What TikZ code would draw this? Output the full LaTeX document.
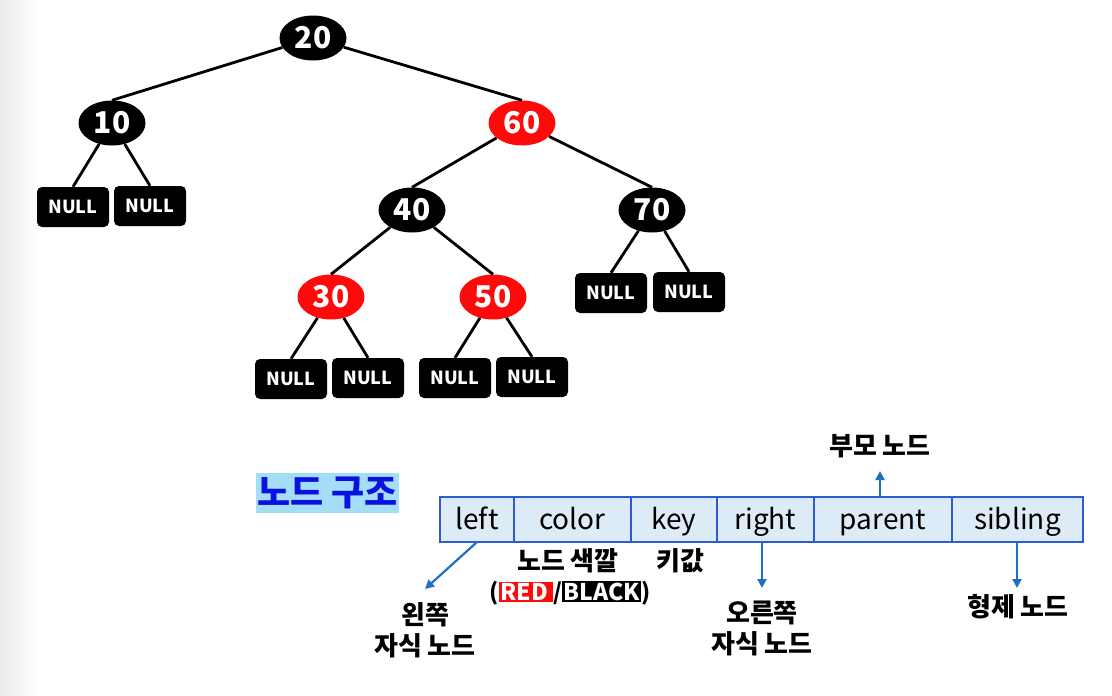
\documentclass[tikz,border=0pt]{standalone}
\usepackage{fontspec}
\setmainfont{Noto Sans CJK KR}
\usetikzlibrary{shapes.geometric,arrows.meta}
\definecolor{rbred}{HTML}{FF0A0A}
\definecolor{arrblue}{HTML}{1F70C0}
\definecolor{cellfill}{HTML}{DDEBF7}
\definecolor{cellborder}{HTML}{2E5BD0}
\definecolor{hlbg}{HTML}{A3DDF7}
\definecolor{titleblue}{HTML}{0A10E0}
\begin{document}
\begin{tikzpicture}[x=1pt,y=-1pt,
  bnode/.style={ellipse, fill=black, minimum width=67pt, minimum height=45pt, inner sep=0pt, text=white, font=\bfseries\fontsize{30}{32}\selectfont},
  rnode/.style={bnode, fill=rbred},
  nullbox/.style={rectangle, rounded corners=5pt, fill=black, minimum width=72pt, minimum height=40pt, inner sep=0pt, text=white, font=\bfseries\fontsize{18}{20}\selectfont},
  tedge/.style={line width=2.8pt},
  cell/.style={rectangle, draw=cellborder, fill=cellfill, line width=1.3pt, minimum height=45pt, inner sep=0pt, outer sep=0pt, text height=22pt, text depth=3pt, font=\fontsize{28}{30}\selectfont},
  klabel/.style={align=center, font=\bfseries\fontsize{26}{31}\selectfont, inner sep=0pt},
  arr/.style={draw=arrblue, line width=2.2pt, -{Triangle[length=9pt,width=9pt]}}
]
\useasboundingbox (0,0) rectangle (1112,696);
\shade[left color=black!8, right color=white] (0,0) rectangle (40,696);

% tree nodes
\node[bnode] (n20) at (313,38) {20};
\node[bnode] (n10) at (112,123) {10};
\node[rnode] (n60) at (522,123) {60};
\node[bnode] (n40) at (412,210) {40};
\node[bnode] (n70) at (652,210) {70};
\node[rnode] (n30) at (331,297) {30};
\node[rnode] (n50) at (493,297) {50};

\node[nullbox] (u1) at (73,207) {NULL};
\node[nullbox] (u2) at (150,206) {NULL};
\node[nullbox] (u3) at (291,379) {NULL};
\node[nullbox] (u4) at (368,378) {NULL};
\node[nullbox] (u5) at (455,378) {NULL};
\node[nullbox] (u6) at (532,377) {NULL};
\node[nullbox] (u7) at (611,293) {NULL};
\node[nullbox] (u8) at (689,292) {NULL};

\draw[tedge] (n20) -- (n10.north);
\draw[tedge] (n20) -- (n60.north);
\draw[tedge] (n60) -- (n40.north);
\draw[tedge] (n60) -- (n70.north);
\draw[tedge] (n40) -- (n30.north);
\draw[tedge] (n40) -- (n50.north);
\draw[tedge] (n10) -- (u1.north);
\draw[tedge] (n10) -- (u2.north);
\draw[tedge] (n30) -- (u3.north);
\draw[tedge] (n30) -- (u4.north);
\draw[tedge] (n50) -- (u5.north);
\draw[tedge] (n50) -- (u6.north);
\draw[tedge] (n70) -- (u7.north);
\draw[tedge] (n70) -- (u8.north);

% title
\node[fill=hlbg, text=titleblue, font=\bfseries\fontsize{36}{40}\selectfont, minimum width=143pt, minimum height=40pt, inner sep=0pt] (title) at (327.5,493) {노드 구조};

% structure cells
\node[cell, minimum width=74pt] (cleft) at (477,519.5) {left};
\node[cell, minimum width=117pt] (ccolor) at (572.5,519.5) {color};
\node[cell, minimum width=86pt] (ckey) at (674,519.5) {key};
\node[cell, minimum width=97pt] (cright) at (765.5,519.5) {right};
\node[cell, minimum width=138pt] (cparent) at (883,519.5) {parent};
\node[cell, minimum width=131pt] (csib) at (1017.5,519.5) {sibling};

% labels
\node[klabel] (lparent) at (880,446) {부모 노드};
\node[klabel] (lcolor) at (568,561) {노드 색깔};
\node[klabel, font=\bfseries\fontsize{23}{26}\selectfont] (lrb) at (570,593) {(\setlength{\fboxsep}{1.5pt}\colorbox{rbred}{\textcolor{white}{RED\,}}/\colorbox{black}{\textcolor{white}{BLACK}})};
\node[klabel] (lkey) at (680,561) {키값};
\node[klabel] (lleft) at (425,630) {왼쪽\\자식 노드};
\node[klabel] (lright) at (762,628) {오른쪽\\자식 노드};
\node[klabel] (lsib) at (1018,607) {형제 노드};

\coordinate (aparent) at (880,471);
\coordinate (aleft) at (425,589);
\coordinate (aright) at (762,588);
\coordinate (asib) at (1017,588);
\draw[arr] (cparent.north -| aparent) -- (aparent);
\draw[arr] (cleft.south) -- (aleft);
\draw[arr] (cright.south -| aright) -- (aright);
\draw[arr] (csib.south -| asib) -- (asib);
\end{tikzpicture}
\end{document}
